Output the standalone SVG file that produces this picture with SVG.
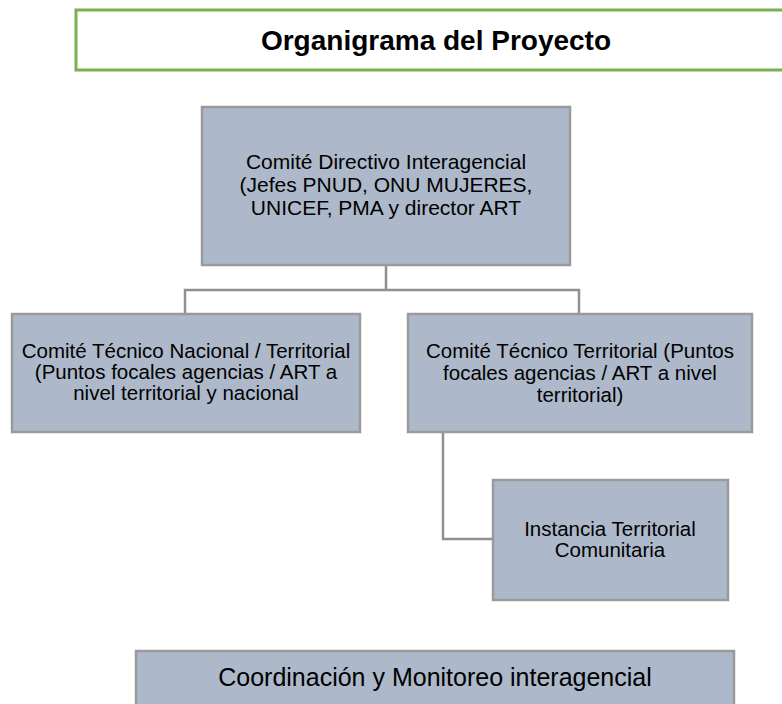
<svg xmlns="http://www.w3.org/2000/svg" width="782" height="704" viewBox="0 0 782 704">
<style>
.box{fill:#adb9ca;stroke:#9a9a9a;stroke-width:2.5}
.t{font-family:"Liberation Sans",Arial,sans-serif;font-size:20.5px;fill:#000;text-anchor:middle}
.conn{fill:none;stroke:#8f8f8f;stroke-width:2.5}
</style>
<rect width="782" height="704" fill="#fff"/>
<g id="title">
<rect x="76" y="10" width="730" height="60" fill="#fff" stroke="#77b150" stroke-width="3"/>
<text x="436" y="50" font-family="'Liberation Sans',Arial,sans-serif" font-size="28" font-weight="bold" text-anchor="middle">Organigrama del Proyecto</text>
</g>
<g id="connectors">
<path class="conn" d="M386 265V290M185 314V290H579V314"/>
<path class="conn" d="M443 432V539H493"/>
</g>
<g id="comite-directivo">
<rect class="box" x="202" y="107" width="368" height="158"/>
<text class="t" x="386" y="169" style="font-size:21px">Comité Directivo Interagencial</text>
<text class="t" x="386" y="192" style="font-size:21px">(Jefes PNUD, ONU MUJERES,</text>
<text class="t" x="386" y="215" style="font-size:21px">UNICEF, PMA y director ART</text>
</g>
<g id="comite-tecnico-nacional">
<rect class="box" x="12" y="314" width="348" height="118"/>
<text class="t" x="186" y="358">Comité Técnico Nacional / Territorial</text>
<text class="t" x="186" y="379">(Puntos focales agencias / ART a</text>
<text class="t" x="186" y="400">nivel territorial y nacional</text>
</g>
<g id="comite-tecnico-territorial">
<rect class="box" x="408" y="314" width="344" height="118"/>
<text class="t" x="580" y="358">Comité Técnico Territorial (Puntos</text>
<text class="t" x="580" y="380">focales agencias / ART a nivel</text>
<text class="t" x="580" y="402">territorial)</text>
</g>
<g id="instancia">
<rect class="box" x="493" y="480" width="235" height="120"/>
<text class="t" x="610" y="536">Instancia Territorial</text>
<text class="t" x="610" y="557">Comunitaria</text>
</g>
<g id="coordinacion">
<rect class="box" x="136" y="651" width="598" height="60"/>
<text class="t" x="435" y="686" style="font-size:25px">Coordinación y Monitoreo interagencial</text>
</g>
</svg>
